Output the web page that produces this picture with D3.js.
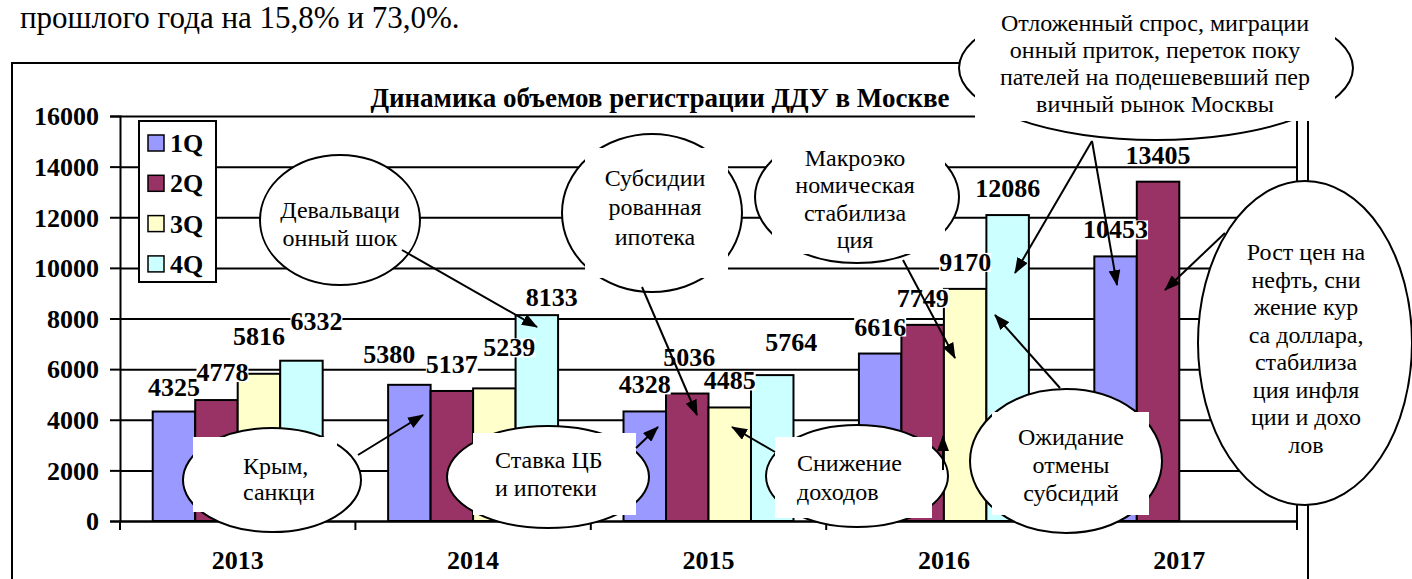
<!DOCTYPE html>
<html><head><meta charset="utf-8">
<script src="https://cdn.jsdelivr.net/npm/d3@7"></script>
</head><body style="margin:0;padding:0;background:#fff">
<svg id="chart" width="1412" height="579" font-family="Liberation Serif" style="display:block"></svg>
<script>
// ---------- data ----------
const years = ["2013", "2014", "2015", "2016", "2017"];
const quarters = ["1Q", "2Q", "3Q", "4Q"];
const q1 = [4325, 5380, 4328, 6616, 10453];
const q2 = [4778, 5137, 5036, 7749, 13405];
const q3 = [5816, 5239, 4485, 9170, null];
const q4 = [6332, 8133, 5764, 12086, null];
const yTicks = [0, 2000, 4000, 6000, 8000, 10000, 12000, 14000, 16000];
const title = "Динамика объемов регистрации ДДУ в Москве";
const pageText = "прошлого года на 15,8% и 73,0%.";
const colors = ["#9999FF", "#993366", "#FFFFCC", "#CCFFFF"];

const series = [q1, q2, q3, q4];
const FONT = '"Liberation Serif"';

// ---------- layout ----------
const svg = d3.select("#chart");
const L = 120, R = 1297, T = 116, B = 521;
const y = d3.scaleLinear().domain([0, 16000]).range([B, T]);
const x0 = d3.scaleBand().domain(years).range([L, R]).padding(0);
const x1 = d3.scaleBand().domain(quarters).range([0, x0.bandwidth()]).paddingInner(0).paddingOuter(0.77);

function txt(sel) { return sel.append("text").style("font-family", FONT); }

// page text
txt(svg).attr("x", 20).attr("y", 28).attr("font-size", 31).text(pageText);

// outer frame
svg.append("rect").attr("x", 12).attr("y", 63).attr("width", 1296).attr("height", 600)
  .attr("fill", "none").attr("stroke", "#000").attr("stroke-width", 2);

// title
txt(svg).attr("x", 660).attr("y", 107).attr("text-anchor", "middle")
  .attr("font-weight", "bold").attr("font-size", 27).text(title);

// gridlines
svg.append("g").attr("transform", `translate(${L},0)`)
  .call(d3.axisLeft(y).tickValues(yTicks).tickSize(-(R - L)).tickFormat(""))
  .call(g => g.select(".domain").remove())
  .call(g => g.selectAll("line").attr("stroke", "#000").attr("stroke-width", 2));

// y axis
svg.append("g").attr("transform", `translate(${L},0)`)
  .call(d3.axisLeft(y).tickValues(yTicks).tickSize(10).tickPadding(11).tickFormat(d3.format("d")))
  .attr("font-family", "Liberation Serif")
  .call(g => g.select(".domain").attr("stroke", "#000").attr("stroke-width", 2))
  .call(g => g.selectAll("line").attr("stroke", "#000").attr("stroke-width", 2))
  .call(g => g.selectAll("text").style("font-family", FONT).attr("font-weight", "bold")
    .attr("font-size", 26).attr("fill", "#000").attr("dy", "0.34em"));

// right border of plot
svg.append("line").attr("x1", R).attr("x2", R).attr("y1", T).attr("y2", B + 9)
  .attr("stroke", "#000").attr("stroke-width", 2);

// bars
const barData = [];
years.forEach((yr, i) => quarters.forEach((q, j) => {
  const v = series[j][i];
  if (v != null) barData.push({ yr, q, j, v });
}));
svg.append("g").selectAll("rect").data(barData).join("rect")
  .attr("x", d => x0(d.yr) + x1(d.q))
  .attr("y", d => y(d.v))
  .attr("width", x1.bandwidth())
  .attr("height", d => y(0) - y(d.v))
  .attr("fill", d => colors[d.j])
  .attr("stroke", "#000").attr("stroke-width", 2);

// x axis
svg.append("g").attr("transform", `translate(0,${B})`)
  .call(d3.axisBottom(x0).tickSize(0).tickPadding(30))
  .attr("font-family", "Liberation Serif")
  .call(g => g.select(".domain").attr("stroke", "#000").attr("stroke-width", 2))
  .call(g => g.selectAll("text").style("font-family", FONT).attr("font-weight", "bold")
    .attr("font-size", 26).attr("fill", "#000"));
svg.append("g").selectAll("line").data(years.concat(["end"])).join("line")
  .attr("x1", d => d === "end" ? R : x0(d)).attr("x2", d => d === "end" ? R : x0(d))
  .attr("y1", B).attr("y2", B + 9).attr("stroke", "#000").attr("stroke-width", 2);

// data labels (manual nudges as in the original)
const nudge = {
  "2013-2Q": [6, -1], "2013-3Q": [0, -11], "2013-4Q": [15, -13], "2013-1Q": [0, 2],
  "2014-1Q": [-20, -4], "2014-3Q": [15, -14], "2014-4Q": [15, 9],
  "2015-2Q": [2, -10], "2015-4Q": [19, -6]
};
const lblG = svg.append("g");
barData.forEach(d => {
  const n = nudge[d.yr + "-" + d.q] || [0, 0];
  const cx = x0(d.yr) + x1(d.q) + x1.bandwidth() / 2 + n[0];
  const by = y(d.v) - 18 + n[1];
  const g = lblG.append("g");
  const t = txt(g).attr("x", cx).attr("y", by).attr("text-anchor", "middle")
    .attr("font-weight", "bold").attr("font-size", 26).text(d.v);
  const bb = t.node().getBBox();
  g.insert("rect", "text").attr("x", bb.x).attr("y", by - 18).attr("width", bb.width)
    .attr("height", 19).attr("fill", "#fff");
});

// legend
const lg = svg.append("g");
lg.append("rect").attr("x", 139).attr("y", 121).attr("width", 77).attr("height", 161)
  .attr("fill", "#fff").attr("stroke", "#000").attr("stroke-width", 2);
quarters.forEach((q, j) => {
  const cy = 143 + j * 40.3;
  lg.append("rect").attr("x", 148).attr("y", cy - 8).attr("width", 16).attr("height", 16)
    .attr("fill", colors[j]).attr("stroke", "#000").attr("stroke-width", 1.5);
  txt(lg).attr("x", 170).attr("y", cy + 9)
    .attr("font-weight", "bold").attr("font-size", 26).text(q);
});

// ---------- callouts ----------
const callouts = [
  { e: [272, 480, 89, 52], r: [193, 437, 337, 512], lines: ["Крым,", "санкци"], anchor: "start", tx: 243, ty: [466, 492] },
  { e: [548, 477, 101, 51], r: [473, 433, 636, 515], lines: ["Ставка ЦБ", "и ипотеки"], anchor: "start", tx: 495, ty: [460, 488] },
  { e: [857, 476, 91, 51], r: [775, 437, 932, 518], lines: ["Снижение", "доходов"], anchor: "start", tx: 797, ty: [463, 492] },
  { e: [1066, 461, 96, 72], r: [992, 412, 1149, 515], lines: ["Ожидание", "отмены", "субсидий"], anchor: "middle", tx: 1071, ty: [437, 465, 493] },
  { e: [1305, 343, 107, 162], r: null, lines: ["Рост цен на", "нефть, сни", "жение кур", "са доллара,", "стабилиза", "ция инфля", "ции и дохо", "лов"], anchor: "middle", tx: 1306, ty: [252, 279.5, 307, 334.5, 362, 389.5, 417, 444.5] },
  { e: [1156, 68, 197, 72], r: [975, -10, 1335, 121], lines: ["Отложенный спрос, миграции", "онный приток, переток поку", "пателей на подешевевший пер", "вичный рынок Москвы"], anchor: "middle", tx: 1155, ty: [23, 50, 77, 104], clip: 113 },
  { e: [857, 197, 102, 66], r: [772, 126, 945, 254], lines: ["Макроэко", "номическая", "стабилиза", "ция"], anchor: "middle", tx: 855, ty: [158, 185, 213, 240] },
  { e: [652, 213, 90, 79], r: [585, 148, 728, 278], lines: ["Субсидии", "рованная", "ипотека"], anchor: "middle", tx: 655, ty: [178, 207, 237] },
  { e: [340, 220, 80, 65], r: null, lines: ["Девальваци", "онный шок"], anchor: "middle", tx: 340, ty: [210, 238] }
];
const arrows = [
  [358, 455, 423, 415], [636, 448, 658, 427], [775, 452, 732, 427], [943, 470, 943, 436],
  [1060, 388, 995, 315], [1092, 141, 1015, 273], [1092, 141, 1117, 285], [1225, 233, 1165, 290],
  [903, 260, 955, 358], [642, 287, 697, 415], [402, 250, 537, 327]
];

const defs = svg.append("defs");
defs.append("marker").attr("id", "ah").attr("viewBox", "0 0 16 12").attr("refX", 15).attr("refY", 6)
  .attr("markerWidth", 16).attr("markerHeight", 12).attr("markerUnits", "userSpaceOnUse")
  .attr("orient", "auto").append("path").attr("d", "M0,0L16,6L0,12Z").attr("fill", "#000");

const cg = svg.append("g");
callouts.forEach(c => {
  cg.append("ellipse").attr("cx", c.e[0]).attr("cy", c.e[1]).attr("rx", c.e[2]).attr("ry", c.e[3])
    .attr("fill", "#fff").attr("stroke", "#000").attr("stroke-width", 2);
  if (c.r) cg.append("rect").attr("x", c.r[0]).attr("y", c.r[1]).attr("width", c.r[2] - c.r[0])
    .attr("height", c.r[3] - c.r[1]).attr("fill", "#fff");
});
svg.append("g").selectAll("line").data(arrows).join("line")
  .attr("x1", d => d[0]).attr("y1", d => d[1]).attr("x2", d => d[2]).attr("y2", d => d[3])
  .attr("stroke", "#000").attr("stroke-width", 2).attr("marker-end", "url(#ah)");
callouts.forEach((c, k) => {
  let g = svg.append("g");
  if (c.clip) {
    defs.append("clipPath").attr("id", "cl" + k).append("rect").attr("x", 0).attr("y", 0)
      .attr("width", 1412).attr("height", c.clip);
    g.attr("clip-path", `url(#cl${k})`);
  }
  c.lines.forEach((ln, i) => {
    txt(g).attr("x", c.tx).attr("y", c.ty[i] + 8).attr("text-anchor", c.anchor)
      .attr("font-size", 24).text(ln);
  });
});
</script>
</body></html>
